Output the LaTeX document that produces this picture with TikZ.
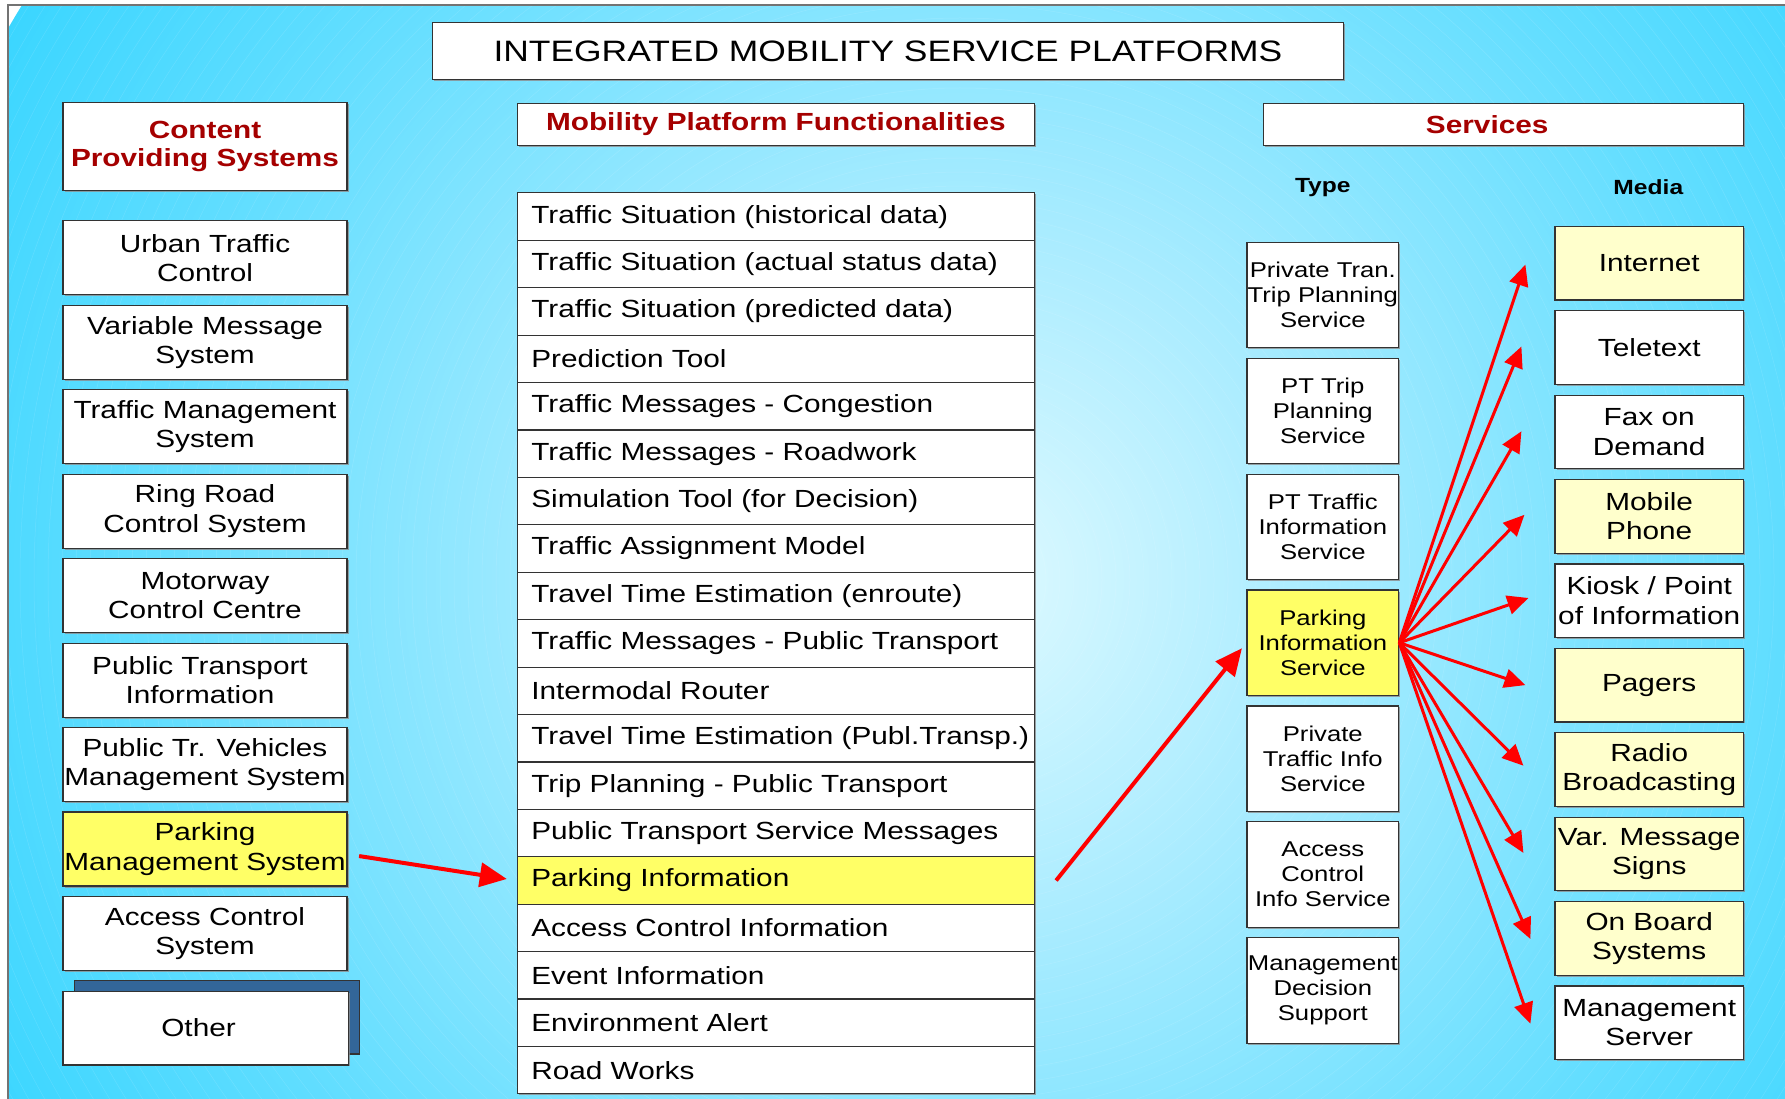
\documentclass[tikz,border=0pt]{standalone}
\usepackage{fontspec}
\setmainfont{Liberation Sans}[FakeStretch=1.2]
\usetikzlibrary{arrows.meta,shadows,calc}
\definecolor{hdred}{RGB}{165,0,0}
\definecolor{pyellow}{RGB}{255,255,102}
\definecolor{lyellow}{RGB}{255,255,204}
\definecolor{bgA}{RGB}{225,250,255}
\definecolor{bgB}{RGB}{170,236,255}
\definecolor{bgC}{RGB}{100,222,255}
\definecolor{bgD}{RGB}{30,208,255}
\definecolor{bgE}{RGB}{0,200,255}
\definecolor{shadowblue}{RGB}{51,102,153}
\pgfdeclareradialshading{bgshade}{\pgfpointorigin}{color(0bp)=(bgA); color(8bp)=(bgB); color(18bp)=(bgC); color(30bp)=(bgD); color(42bp)=(bgE); color(50bp)=(bgE)}
\tikzset{
  box/.style={draw=black!80, line width=1.2pt, fill=white, inner sep=0pt, align=center,
    drop shadow={shadow xshift=1.5pt, shadow yshift=-1.5pt, fill=black!45, opacity=0.8}},
  lbox/.style={box, anchor=north west, minimum width=284pt, minimum height=74pt,
    font=\fontsize{24.8}{29.4}\selectfont},
  tbox/.style={box, anchor=north west, minimum width=151.8pt, minimum height=105.5pt,
    font=\fontsize{21.4}{25}\selectfont},
  mbox/.style={box, anchor=north west, minimum width=188.4pt, minimum height=73.6pt,
    font=\fontsize{24.8}{29.4}\selectfont},
  rowbox/.style={box, anchor=north west, text width=489.2pt, inner xsep=14pt, inner ysep=0pt,
    minimum height=47.42pt, align=left, font=\fontsize{24.8}{29.4}\selectfont},
  hdr/.style={box, anchor=north west, text=hdred, font=\bfseries\fontsize{24.8}{28}\selectfont},
  sublbl/.style={font=\bfseries\fontsize{20.5}{24}\selectfont},
  fanarr/.style={draw=red, line width=3pt, -{Triangle[length=21pt,width=19pt]}},
  bigarr/.style={draw=red, line width=4pt, -{Triangle[length=27pt,width=24pt]}}
}
\begin{document}
\begin{tikzpicture}[x=1pt,y=-1pt]
\useasboundingbox (0,0) rectangle (1785,1099);
\fill[white] (0,0) rectangle (1785,1099);
\begin{scope}
  \clip (8,5) rectangle (1785,1099);
  \shade[shading=bgshade] (960,580) circle (1100pt);
  \foreach \r in {30,44,...,1100} \draw[white, opacity=0.12, line width=0.5pt] (960,580) circle (\r pt);
\end{scope}
\draw[black!55, line width=1.2pt] (8,1099) -- (8,5) -- (1785,5);

% title
\node[box, anchor=north west, minimum width=910.6pt, minimum height=57pt,
  font=\fontsize{29.5}{34}\selectfont] (title) at (432,22.3) {INTEGRATED MOBILITY SERVICE PLATFORMS};

% headers
\node[hdr, minimum width=284pt, minimum height=88pt] (hcps) at (62.4,101.7) {Content\\Providing Systems};
\node[hdr, minimum width=517.2pt, minimum height=42.3pt] (hmpf) at (516.7,102.7) {Mobility Platform Functionalities};
\node[hdr, minimum width=480.2pt, minimum height=42.3pt] (hsrv) at (1262.5,102.7) {Services\hspace*{32pt}\mbox{}};
\node[sublbl] (ltype) at (1322.8,188) {Type};
\node[sublbl] (lmedia) at (1648.3,187.6) {Media};

% content providing systems
\node[lbox] (c1) at (62.4,220.3) {Urban Traffic\\Control};
\node[lbox] (c2) at (62.4,304.75) {Variable Message\\System};
\node[lbox] (c3) at (62.4,389.2) {Traffic Management\\System};
\node[lbox] (c4) at (62.4,473.65) {Ring Road\\Control System};
\node[lbox] (c5) at (62.4,558.1) {Motorway\\Control Centre};
\node[lbox] (c6) at (62.4,642.55) {Public Transport\hspace*{10pt}\mbox{}\\Information\hspace*{10pt}\mbox{}};
\node[lbox] (c7) at (62.4,727.0) {Public Tr. Vehicles\\Management System};
\node[lbox, fill=pyellow] (pms) at (62.4,811.45) {Parking\\Management System};
\node[lbox] (c9) at (62.4,895.9) {Access Control\\System};
\node[draw=black!80, line width=1.2pt, fill=shadowblue, anchor=north west, inner sep=0pt,
  minimum width=284.7pt, minimum height=73.3pt] (otherbg) at (73.9,980) {};
\node[lbox, minimum width=285.1pt, minimum height=73.6pt] (other) at (62.4,990.7) {Other\hspace*{14pt}\mbox{}};

% functionality table
\node[rowbox] (r1) at (516.7,192.3) {Traffic Situation (historical data)};
\node[rowbox] (r2) at (516.7,239.72) {Traffic Situation (actual status data)};
\node[rowbox] (r3) at (516.7,287.14) {Traffic Situation (predicted data)};
\node[rowbox] (r4) at (516.7,334.56) {Prediction Tool};
\node[rowbox] (r5) at (516.7,381.98) {Traffic Messages - Congestion};
\node[rowbox] (r6) at (516.7,429.40) {Traffic Messages - Roadwork};
\node[rowbox] (r7) at (516.7,476.82) {Simulation Tool (for Decision)};
\node[rowbox] (r8) at (516.7,524.24) {Traffic Assignment Model};
\node[rowbox] (r9) at (516.7,571.66) {Travel Time Estimation (enroute)};
\node[rowbox] (r10) at (516.7,619.08) {Traffic Messages - Public Transport};
\node[rowbox] (r11) at (516.7,666.50) {Intermodal Router};
\node[rowbox] (r12) at (516.7,713.92) {\mbox{Travel Time Estimation (Publ.Transp.)}};
\node[rowbox] (r13) at (516.7,761.34) {Trip Planning - Public Transport};
\node[rowbox] (r14) at (516.7,808.76) {Public Transport Service Messages};
\node[rowbox, fill=pyellow] (r15) at (516.7,856.18) {Parking Information};
\node[rowbox] (r16) at (516.7,903.60) {Access Control Information};
\node[rowbox] (r17) at (516.7,951.02) {Event Information};
\node[rowbox] (r18) at (516.7,998.44) {Environment Alert};
\node[rowbox] (r19) at (516.7,1045.86) {Road Works};

% service types
\node[tbox] (t1) at (1246.3,241.7) {Private Tran.\\Trip Planning\\Service};
\node[tbox] (t2) at (1246.3,357.6) {PT Trip\\Planning\\Service};
\node[tbox] (t3) at (1246.3,473.5) {PT Traffic\\Information\\Service};
\node[tbox, fill=pyellow] (pis) at (1246.3,589.4) {Parking\\Information\\Service};
\node[tbox] (t5) at (1246.3,705.3) {Private\\Traffic Info\\Service};
\node[tbox] (t6) at (1246.3,821.2) {Access\\Control\\Info Service};
\node[tbox] (t7) at (1246.3,937.1) {Management\\Decision\\Support};

% media
\node[mbox, fill=lyellow] (m1) at (1554.4,225.7) {Internet};
\node[mbox] (m2) at (1554.4,310.1) {Teletext};
\node[mbox] (m3) at (1554.4,394.5) {Fax on\\Demand};
\node[mbox, fill=lyellow] (m4) at (1554.4,478.9) {Mobile\\Phone};
\node[mbox] (m5) at (1554.4,563.3) {Kiosk / Point\\of Information};
\node[mbox, fill=lyellow] (m6) at (1554.4,647.7) {Pagers};
\node[mbox, fill=lyellow] (m7) at (1554.4,732.1) {Radio\\Broadcasting};
\node[mbox, fill=lyellow] (m8) at (1554.4,816.5) {Var. Message\\Signs};
\node[mbox, fill=lyellow] (m9) at (1554.4,900.9) {On Board\\Systems};
\node[mbox] (m10) at (1554.4,985.3) {Management\\Server};

% arrows
\coordinate (pmsout) at ($(pms.east)+(11.5,7)$);
\draw[bigarr, shorten >=10pt] (pmsout) -- (r15.west);
\coordinate (r15out) at ($(r15.east)+(21,0)$);
\draw[bigarr, shorten >=7pt] (r15out) -- (pis.west);
\foreach \m/\dx/\dy in {m1/29/1.5, m2/33/-1, m3/33/-0.6, m4/30/-1.5, m5/26/-2.7,
                        m6/29/0, m7/31/-3.8, m8/31/-1, m9/24/0.7, m10/24/1} {
  \coordinate (\m tip) at ($(\m.west)+(-\dx,\dy)$);
  \draw[fanarr] (pis.east) -- (\m tip);
}
\end{tikzpicture}
\end{document}
